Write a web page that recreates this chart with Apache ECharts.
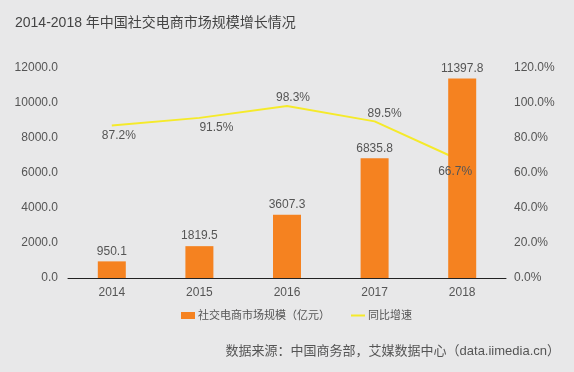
<!DOCTYPE html>
<html><head><meta charset="utf-8">
<script src="https://cdn.jsdelivr.net/npm/echarts@6/dist/echarts.min.js"></script>
<style>html,body{margin:0;padding:0;background:#e8e8e9;}#c{width:574px;height:372px;}</style>
</head><body><div id="c"></div>
<script>
const categories = ['2014','2015','2016','2017','2018'];
const marketSize = [950.1, 1819.5, 3607.3, 6835.8, 11397.8];
const growthRate = [87.2, 91.5, 98.3, 89.5, 66.7];
const growthLabelPos = ['bottom','bottom','top','top','bottom'];
const growthLabelOffset = [[7,0],[17,0],[6,0],[10,0],[-7,0]];
const leftTicks = {min:0, max:12000, interval:2000};
const rightTicks = {min:0, max:120, interval:20};
const FONT = '"Liberation Sans", Arial, "Noto Sans CJK SC", sans-serif';
const chart = echarts.init(document.getElementById('c'));
chart.setOption({
  backgroundColor:'#e8e8e9',
  textStyle:{fontFamily:FONT},
  title:[{text:'2014-2018 年中国社交电商市场规模增长情况', left:10, top:11,
    textStyle:{fontSize:14, fontWeight:'normal', color:'#444', fontFamily:FONT}},
    {text:'数据来源：中国商务部，艾媒数据中心（data.iimedia.cn）', right:9, top:340,
    textStyle:{fontSize:13, fontWeight:'normal', color:'#555', fontFamily:FONT}}],
  legend:{top:305, left:176, itemWidth:14, itemHeight:7, itemGap:20,
    textStyle:{fontSize:11, color:'#555', padding:[0,0,0,-2]},
    data:[{name:'社交电商市场规模（亿元）', icon:'rect'},
          {name:'同比增速', itemStyle:{opacity:0}, lineStyle:{color:'#f5ea2a', width:2}}]},
  grid:{left:68, right:68, top:68, bottom:94},
  xAxis:{type:'category', data:categories,
    axisLine:{lineStyle:{color:'#222'}}, axisTick:{show:false},
    axisLabel:{color:'#555', fontSize:12, margin:9}},
  yAxis:[{type:'value', min:leftTicks.min, max:leftTicks.max, interval:leftTicks.interval,
    splitLine:{show:false}, axisLine:{show:false}, axisTick:{show:false},
    axisLabel:{color:'#555', fontSize:12, margin:10, formatter:v=>v.toFixed(1)}},
    {type:'value', min:rightTicks.min, max:rightTicks.max, interval:rightTicks.interval,
    splitLine:{show:false}, axisLine:{show:false}, axisTick:{show:false},
    axisLabel:{color:'#555', fontSize:12, margin:8, formatter:v=>v.toFixed(1)+'%'}}],
  series:[
    {name:'同比增速', type:'line', yAxisIndex:1, symbol:'none',
    lineStyle:{color:'#f5ea2a', width:2}, itemStyle:{color:'#f5ea2a'},
    data:growthRate, z:1},
    {name:'社交电商市场规模（亿元）', type:'bar', data:marketSize, barWidth:28,
    itemStyle:{color:'#f58220'}, z:2,
    label:{show:true, position:'top', color:'#555', fontSize:12, distance:4, formatter:p=>p.value.toFixed(1)}},
    {name:'增速标签', type:'scatter', yAxisIndex:1, symbolSize:0, silent:true, z:5,
    itemStyle:{opacity:1},
    data:growthRate.map((v,i)=>({value:[categories[i], v], label:{position:growthLabelPos[i], offset:growthLabelOffset[i], distance:growthLabelPos[i]==='top'?2:4}})),
    label:{show:true, color:'#555', opacity:1, fontSize:12, formatter:p=>p.value[1].toFixed(1)+'%'}}
  ]
});
</script></body></html>
